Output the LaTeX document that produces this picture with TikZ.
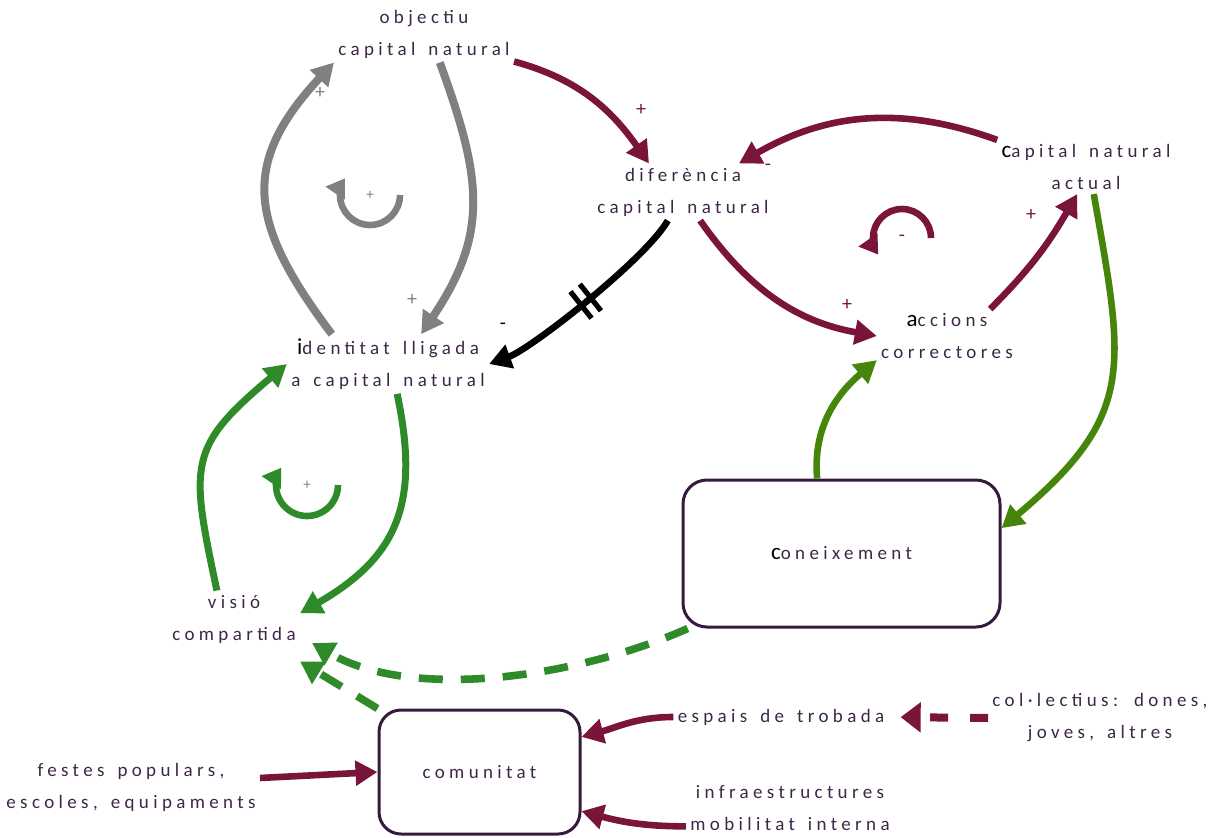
\documentclass[tikz,border=0pt]{standalone}
\usepackage{fontspec}
\setmainfont{Carlito}[LetterSpace=23,WordSpace=1.5]
\usetikzlibrary{arrows.meta,decorations.markings}

\definecolor{wine}{RGB}{123,20,58}
\definecolor{txtcol}{RGB}{62,38,70}
\definecolor{boxcol}{RGB}{52,26,60}
\definecolor{leaf}{RGB}{47,139,42}
\definecolor{moss}{RGB}{70,133,12}
\definecolor{loopgray}{RGB}{128,128,128}

\newcommand{\bigini}[1]{{\color{black}\fontsize{11.5}{16}\selectfont #1}}

\begin{document}
\begin{tikzpicture}
  [x=0.5pt,y=0.5pt,
   every node/.style={font=\fontsize{9.5}{16}\selectfont, text=txtcol, align=center, inner sep=2pt},
   box/.style={draw=boxcol, line width=1.5pt, rounded corners=12pt},
   sign/.style={font=\fontsize{10}{12}\selectfont, inner sep=0pt},
   small sign/.style={font=\fontsize{7.5}{9}\selectfont, inner sep=0pt, text=loopgray},
   tip/.style={-{Triangle[length=11pt,width=12pt]}},
   loop tip/.style={-{Triangle[length=9pt,width=11pt]}},
   wine link/.style={draw=wine, line width=3.3pt, tip},
   grey link/.style={draw=loopgray, line width=4pt, tip},
   black link/.style={draw=black, line width=3.3pt, tip},
   leaf link/.style={draw=leaf, line width=3.5pt, tip},
   moss link/.style={draw=moss, line width=3.3pt, tip},
   leaf dashes/.style={draw=leaf, line width=3.8pt, dash pattern=on 12pt off 9pt,
                       -{Triangle[length=11pt,width=12.5pt]}},
   wine dashes/.style={draw=wine, line width=4pt, dash pattern=on 9pt off 11pt,
                       -{Triangle[length=10pt,width=14.5pt]}},
   delay/.style={postaction={decorate, decoration={markings,
       mark=at position 0.5 with {\draw[line width=2.6pt,-] (-3pt,-8.5pt) -- (-3pt,8.5pt)
                                        (3pt,-8.5pt) -- (3pt,8.5pt);}}}}
  ]
  \useasboundingbox (0,0) rectangle (1228,-837);

  % variables
  \node (obj) at (424,-34) {objectiu\\capital natural};
  \node (dif) at (683,-192) {diferència\\capital natural};
  \node (act) at (1086,-167) {\bigini{c}apital natural\\actual};
  \node (ident) at (388,-364) {\bigini{i}dentitat lligada\\a capital natural};
  \node (acc) at (947,-336) {\bigini{a}ccions\\correctores};
  \node (vis) at (234,-619) {visió\\compartida};
  \node[box, minimum width=158.5pt, minimum height=73.5pt] (con) at (841.5,-553.5) {\bigini{c}oneixement};
  \node[box, rounded corners=11pt, minimum width=100.5pt, minimum height=62pt] (com) at (479.5,-772) {comunitat};
  \node (festes) at (131,-787) {festes populars,\\escoles, equipaments};
  \node (espais) at (781,-717) {espais de trobada};
  \node (col) at (1100,-718) {col·lectius: dones,\\joves, altres};
  \node (infra) at (790,-808) {infraestructures\\mobilitat interna};

  % loops
  \coordinate (gloop) at (370,-195);
  \coordinate (lloop) at (307,-485);
  \coordinate (wloop) at (902,-238);
  \draw[draw=loopgray, line width=3.3pt, loop tip] ([xshift=15pt]gloop) arc[start angle=0, end angle=-214, radius=30];
  \draw[draw=leaf, line width=3.3pt, loop tip] ([xshift=15.5pt]lloop) arc[start angle=0, end angle=-214, radius=31];
  \draw[draw=wine, line width=3.3pt, loop tip] ([xshift=14.5pt]wloop) arc[start angle=0, end angle=215, radius=29];
  \node[small sign] (gs) at (gloop) {+};
  \node[small sign] (ls) at (lloop) {+};
  \node[sign, text=wine] (ws) at (wloop) {-};

  % links
  \draw[grey link, looseness=1.15] (obj.-61) to[out=-70,in=56] (ident.42);
  \draw[grey link, looseness=1.3] (ident.152) to[out=127,in=-133] (obj.south west);
  \draw[wine link] (obj.-17) to[out=-15,in=125] (dif.140);
  \draw[wine link] (act.north west) to[out=160,in=30] (dif.27);
  \draw[wine link] (dif.-59) to[out=-55,in=170] (acc.west);
  \draw[wine link] (acc.32) to[out=45,in=-120] (act.-108);
  \draw[black link, delay, looseness=0.5] (dif.-118) to[out=-120,in=20] (ident.east);
  \draw[leaf link, looseness=1.2] (ident.-73) to[out=-78,in=30] (vis.5);
  \draw[leaf link, looseness=1.4] (vis.121) to[out=102,in=-140] (ident.west);
  \draw[moss link, looseness=1.3] (act.-74) to[out=-80,in=40] (con.9);
  \draw[moss link] (con.108) to[out=95,in=-140] (acc.-161);
  \draw[leaf dashes, looseness=0.8] (con.-154) to[out=-156,in=-30] ([xshift=6pt]vis.-20);
  \draw[leaf dashes] (com.north west) -- ([yshift=-7pt]vis.south east);
  \draw[wine link] (espais.west) to[out=180,in=15] (com.19);
  \draw[wine link] (festes.4) -- (com.west);
  \draw[wine link] (infra.-170) to[out=180,in=-15] (com.-21);
  \draw[wine dashes, shorten >=6pt] (col.west) -- (espais.east);

  % signs
  \node[sign, text=wine] (s1) at (641,-110) {+};
  \node[sign, text=wine] (s2) at (768,-167) {-};
  \node[sign, text=wine] (s3) at (847,-305) {+};
  \node[sign, text=wine] (s4) at (1031,-215) {+};
  \node[sign, text=black] (s5) at (503,-326) {-};
  \node[sign, text=loopgray] (s6) at (320,-93) {+};
  \node[sign, text=loopgray] (s7) at (412,-300) {+};
\end{tikzpicture}
\end{document}
